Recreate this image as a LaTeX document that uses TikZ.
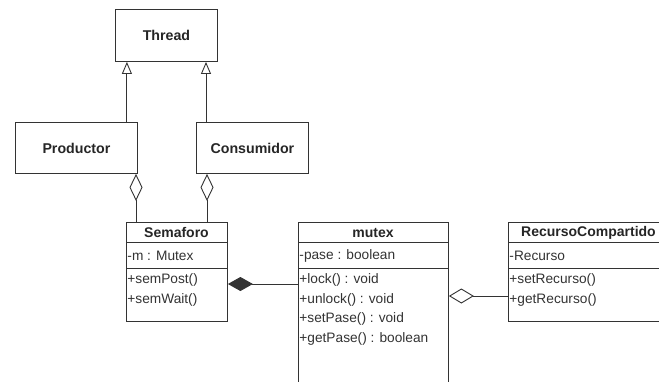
\documentclass[tikz,border=0pt]{standalone}
\usepackage{fontspec}
\setmainfont{Liberation Sans}
\usetikzlibrary{arrows.meta}
\begin{document}
\begin{tikzpicture}[x=1pt,y=-1pt,line width=0.9pt,
  ink/.style={draw=black!80},
  simplebox/.style={ink,rectangle,inner sep=0pt,anchor=north west,
    font=\fontsize{14.2}{16}\selectfont\bfseries,text=black!85},
  classbox/.style={ink,rectangle,inner sep=0pt,anchor=north west},
  classname/.style={inner sep=0pt,font=\fontsize{14}{16}\selectfont\bfseries,text=black!85},
  member/.style={inner sep=0pt,anchor=west,font=\fontsize{13.7}{16}\selectfont,text=black!80},
  inherit/.style={ink,-{Triangle[open,length=12pt,width=10pt]}},
  aggr/.style={ink,-{Diamond[open,length=27pt,width=13pt]}},
  aggrside/.style={ink,-{Diamond[open,length=25pt,width=15pt]}},
  comp/.style={ink,-{Diamond[length=25pt,width=14pt]}},
]
\useasboundingbox (0,0) rectangle (659,381);
\clip (0,0) rectangle (659,381);
\fill[white] (0,0) rectangle (659,381);

% plain classes
\node[simplebox,minimum width=102pt,minimum height=52pt] (thread) at (115,9) {Thread};
\node[simplebox,minimum width=122pt,minimum height=51pt] (prod) at (15,122) {Productor};
\node[simplebox,minimum width=112pt,minimum height=51pt] (cons) at (196,122) {Consumidor};

% Semaforo
\node[classbox,minimum width=101pt,minimum height=99pt] (sem) at (126,222) {};
\node[classname] (semname) at (176.5,232.5) {Semaforo};
\draw[ink] ([yshift=-20pt]sem.north west) -- ([yshift=-20pt]sem.north east);
\draw[ink] ([yshift=-46pt]sem.north west) -- ([yshift=-46pt]sem.north east);
\node[member] (semm) at (127,255.5) {-m : Mutex};
\node[member] (sempost) at (127,280) {+semPost()};
\node[member] (semwait) at (127,299.5) {+semWait()};

% mutex
\node[classbox,minimum width=150pt,minimum height=180pt] (mutex) at (298,222) {};
\node[classname] (mutexname) at (373,232.5) {mutex};
\draw[ink] ([yshift=-20pt]mutex.north west) -- ([yshift=-20pt]mutex.north east);
\draw[ink] ([yshift=-46pt]mutex.north west) -- ([yshift=-46pt]mutex.north east);
\node[member] (mpase) at (299,255.5) {-pase : boolean};
\node[member] (mlock) at (299,280) {+lock() : void};
\node[member] (munlock) at (299,299.5) {+unlock() : void};
\node[member] (mset) at (299,319) {+setPase() : void};
\node[member] (mget) at (299,338.5) {+getPase() : boolean};

% RecursoCompartido
\node[classbox,minimum width=161pt,minimum height=99pt] (rec) at (508,222) {};
\node[classname] (recname) at (588.5,232.5) {RecursoCompartido};
\draw[ink] ([yshift=-20pt]rec.north west) -- ([yshift=-20pt]rec.north east);
\draw[ink] ([yshift=-46pt]rec.north west) -- ([yshift=-46pt]rec.north east);
\node[member] (rrec) at (509,255.5) {-Recurso};
\node[member] (rset) at (509,280) {+setRecurso()};
\node[member] (rget) at (509,299.5) {+getRecurso()};

% generalizations
\draw[inherit] ([xshift=-11pt]prod.north east) -- ([xshift=-11pt]prod.north east |- thread.south);
\draw[inherit] ([xshift=10pt]cons.north west) -- ([xshift=10pt]cons.north west |- thread.south);

% aggregations into Semaforo
\draw[aggr] ([xshift=10pt]sem.north west) -- ([xshift=10pt]sem.north west |- prod.south);
\draw[aggr] ([xshift=11pt]cons.south west |- sem.north) -- ([xshift=11pt]cons.south west);

% composition Semaforo -- mutex
\draw[comp] ([yshift=-62pt]mutex.north west) -- ([yshift=-62pt]mutex.north west -| sem.east);

% aggregation mutex -- RecursoCompartido
\draw[aggrside] ([yshift=-74pt]rec.north west) -- ([yshift=-74pt]rec.north west -| mutex.east);
\end{tikzpicture}
\end{document}
